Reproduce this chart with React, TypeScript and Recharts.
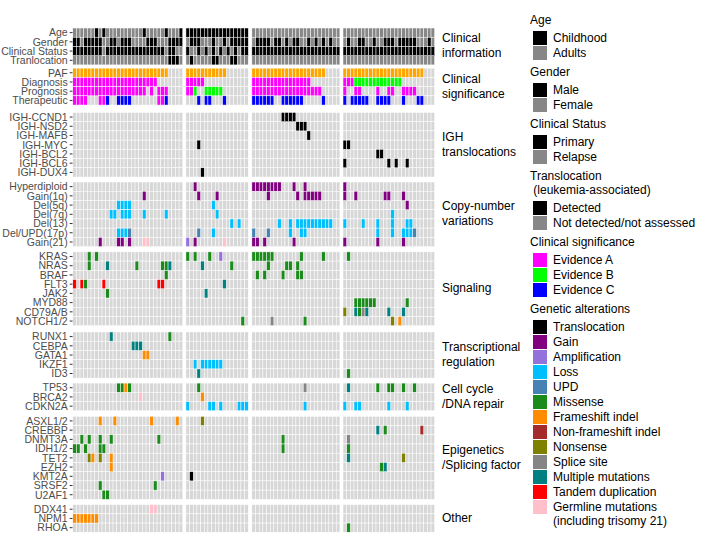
import React from "react";
import { ScatterChart, Scatter, XAxis, YAxis } from "recharts";

const cohorts = ["AML", "ALL", "MM", "DLBCL"];
const cohortSize = [30, 17, 24, 25];

// row: label, then AML / ALL / MM / DLBCL cells as "<code><col>[-<col>]"
const clinicalInfo = [
  ["Age", "K6 K8 K19 K25 K29", "K0-16", "", ""],
  ["Gender", "K0-1 K3-7 K10-11 K13-15 K20-22 K26-29", "K1-3 K7 K10 K12-16", "K1-4 K6-7 K9 K11-12 K15 K17 K19 K21", "K1 K4-5 K8 K11-13 K15-19 K23"],
  ["Clinical Status", "K0-7 K9-24 K26-27", "K0 K3 K5 K7 K9 K11 K13 K15-16", "K0-23", "K0-24"],
  ["Tranlocation", "K26-28", "K1 K7-8 K12-13", "", ""],
];
const clinicalSignificance = [
  ["PAF", "P0-25", "P0-10", "P0-19", "P0-21"],
  ["Diagnosis", "A0-22", "A0-4", "A0-15", "A0-2 B3-15"],
  ["Prognosis", "A0-19 A21 A23-25", "A0-1 B2 B5-9", "A0-18", "A0 A3-4 A9 A12-13 A16-19"],
  ["Therapeutic", "A0-3 A7-8 C9 C12-15 A23-24 C25", "C3 C5-6 C10", "C0-5 C8-13 C19", "C0 C2-6 C9-12 C16 C20-21"],
];
const ighTranslocations = [
  ["IGH-CCND1", "", "", "T8-11", ""],
  ["IGH-NSD2", "", "", "T12-14", ""],
  ["IGH-MAFB", "", "", "T15", ""],
  ["IGH-MYC", "", "T3", "", "T0-1"],
  ["IGH-BCL2", "", "", "", "T9-10"],
  ["IGH-BCL6", "", "", "", "T0 T12 T14 T17"],
  ["IGH-DUX4", "", "T4", "", ""],
];
const copyNumber = [
  ["Hyperdiploid", "", "G2", "G0-7 G11 G14", "G0"],
  ["Gain(1q)", "G19", "G3 G8", "G4 G12 G14-18", "G0 G3 G11-12 G16"],
  ["Del(5q)", "L12-15", "L7", "", "G17"],
  ["Del(7q)", "L10-11 L13-15 L19 L25", "L8", "", "L13"],
  ["Del(13)", "", "L12 L14", "L7 L10 L12-21", "L0 L5 L9 L13 L17-18"],
  ["Del/UPD(17p)", "L12-14 U15", "U3 L7", "U0 U4 L10 L13-14", "L9 L13 L16-18 U19"],
  ["Gain(21)", "G7 G12-13 G15 g19-20", "a0 G2 g10", "G0-1 G3 G11", "G0 G9 G16"],
];
const signaling = [
  ["KRAS", "M4 M6", "M0 M2 M6 a9", "M0-5 M13 M19", "M1"],
  ["NRAS", "M4 X9 M17 M24-25 X26", "X4 M12", "M4 M9-10 M12", ""],
  ["BRAF", "M25", "", "M1 M3 M8 M12-13", ""],
  ["FLT3", "D0 D2 M3 D8 D23-24", "X10", "", ""],
  ["JAK2", "M9", "X5", "", ""],
  ["MYD88", "", "", "", "M3-8 M17"],
  ["CD79A/B", "", "", "", "n0 X3 M4 s5 X6 X12 X16"],
  ["NOTCH1/2", "", "M15", "s5 M14", "n13 F15"],
];
const transcription = [
  ["RUNX1", "X10 M26", "", "", ""],
  ["CEBPA", "X16-18", "", "", ""],
  ["GATA1", "F19-20", "", "", ""],
  ["IKZF1", "", "L2 L4-9", "", ""],
  ["ID3", "", "X3", "", "M1"],
];
const cellCycle = [
  ["TP53", "M12-13 F14 M15", "M3", "s14", "X1 M9 M12-13 M16 M19"],
  ["BRCA2", "g18", "F4", "", ""],
  ["CDKN2A", "", "L0 L6-7 L9 L14-16", "L14", "L0 L3-4 L12 L17"],
];
const epigenetics = [
  ["ASXL1/2", "F7 F11 F21 F28", "n4", "", ""],
  ["CREBBP", "", "", "", "X9 M11 N21"],
  ["DNMT3A", "M2 M4 M7 M10 M23", "", "M8", "s1"],
  ["IDH1/2", "M0-1 M3 M7-8", "", "M8", "M1"],
  ["TET2", "n4 F5 n7 F10", "", "", "X1 n16"],
  ["EZH2", "F10", "", "", "M10 X11"],
  ["KMT2A", "a24", "T1", "", ""],
  ["SRSF2", "M7 M22", "", "", ""],
  ["U2AF1", "M8-9", "", "", ""],
];
const otherGenes = [
  ["DDX41", "g21-22", "", "", ""],
  ["NPM1", "F0-6", "", "", ""],
  ["RHOA", "", "", "", "M1"],
];

const groups = [clinicalInfo, clinicalSignificance, ighTranslocations, copyNumber, signaling, transcription, cellCycle, epigenetics, otherGenes];
const groupTitles = [
  ["Clinical", "information"], ["Clinical", "significance"], ["IGH", "translocations"],
  ["Copy-number", "variations"], ["Signaling"], ["Transcriptional", "regulation"],
  ["Cell cycle", "/DNA repair"], ["Epigenetics", "/Splicing factor"], ["Other"],
];

const COLORS: Record<string, string> = {
  K: "#000000", T: "#000000", P: "#FFA500", A: "#FF00FF", B: "#00FF00", C: "#0000FF",
  G: "#800080", a: "#9370DB", L: "#00BFFF", U: "#4682B4", M: "#1A8A1A", F: "#FF8C00",
  N: "#A52A2A", n: "#808000", s: "#858585", X: "#008080", D: "#FF0000", g: "#FFC0CB",
};
const DARK = "#878787";
const LIGHT = "#D7D7D7";

const legendAge = [["Childhood", "#000000"], ["Adults", DARK]];
const legendGender = [["Male", "#000000"], ["Female", DARK]];
const legendStatus = [["Primary", "#000000"], ["Relapse", DARK]];
const legendTransloc = [["Detected", "#000000"], ["Not detected/not assessed", DARK]];
const legendEvidence = [["Evidence A", "A"], ["Evidence B", "B"], ["Evidence C", "C"]];
const legendAlterations = [
  ["Translocation", "T"], ["Gain", "G"], ["Amplification", "a"], ["Loss", "L"], ["UPD", "U"],
  ["Missense", "M"], ["Frameshift indel", "F"], ["Non-frameshift indel", "N"], ["Nonsense", "n"],
  ["Splice site", "s"], ["Multiple mutations", "X"], ["Tandem duplication", "D"],
  ["Germline mutations\n(including trisomy 21)", "g"],
];

const W = 709;
const H = 536;
const PLOT_L = 72.7;
const PLOT_R = 434.7;
const PLOT_T = 28;
const PLOT_B = 532.3;
const GAP_X = [0.87, 0.98, 0.85];
const GAP_Y = [0.35, 0.8, 0.54, 0.57, 0.68, 0.54, 0.6, 0.57];
const TITLE_SHIFT = [1.8, 0.3, -1, 0.3];
const FONT = "'Liberation Sans', Arial, sans-serif";

let accX = 0;
const colStart = cohortSize.map((n, i) => {
  const s = accX;
  accX += n + (GAP_X[i] ?? 0);
  return s;
});
const totalX = accX;
let accY = 0;
const rowStart = groups.map((rows, k) => {
  const s = accY;
  accY += rows.length + (GAP_Y[k] ?? 0);
  return s;
});
const totalY = accY;
const CELL_W = (PLOT_R - PLOT_L) / totalX;
const CELL_H = (PLOT_B - PLOT_T) / totalY;

function parseCells(spec: string) {
  const out: [number, string][] = [];
  spec.split(" ").filter(Boolean).forEach((tok) => {
    const [a, b] = tok.slice(1).split("-").map(Number);
    for (let c = a; c <= (b ?? a); c++) out.push([c, tok[0]]);
  });
  return out;
}

const bgCells: any[] = [];
const marks: any[] = [];
const yTicks: number[] = [];
const yLabels: string[] = [];
groups.forEach((rows, k) => {
  rows.forEach((row, i) => {
    const y = rowStart[k] + i + 0.5;
    yTicks.push(y);
    yLabels.push(row[0]);
    cohortSize.forEach((n, g) => {
      for (let c = 0; c < n; c++) bgCells.push({ x: colStart[g] + c + 0.5, y, fill: k === 0 ? DARK : LIGHT });
      parseCells(row[g + 1]).forEach(([c, code]) => marks.push({ x: colStart[g] + c + 0.5, y, fill: COLORS[code] }));
    });
  });
});
const titleTicks = cohortSize.map((n, g) => colStart[g] + n / 2 + TITLE_SHIFT[g]);

const CellShape = (p: any) => (
  <rect
    x={p.cx - CELL_W / 2}
    y={p.cy - CELL_H / 2}
    width={CELL_W}
    height={CELL_H}
    fill={p.payload.fill}
    stroke="#ffffff"
    strokeWidth={0.5}
  />
);

const RowTick = (p: any) => {
  const i = yTicks.indexOf(p.payload.value);
  return (
    <text x={p.x} y={p.y} dy="0.36em" textAnchor="end" fontSize={10.5} fill="#4d4d4d" fontFamily={FONT}>
      {yLabels[i]}
    </text>
  );
};

const TitleTick = (p: any) => {
  const i = titleTicks.indexOf(p.payload.value);
  return (
    <text x={p.x} y={21.5} textAnchor="middle" fontSize={14} fill="#1a1a1a" fontFamily={FONT}>
      {cohorts[i]}
    </text>
  );
};

function Legend() {
  const sections = [
    { title: ["Age"], items: legendAge },
    { title: ["Gender"], items: legendGender },
    { title: ["Clinical Status"], items: legendStatus },
    { title: ["Translocation", " (leukemia-associated)"], items: legendTransloc },
    { title: ["Clinical significance"], items: legendEvidence.map(([l, c]) => [l, COLORS[c]]) },
    { title: ["Genetic alterations"], items: legendAlterations.map(([l, c]) => [l, COLORS[c]]) },
  ];
  const els: any[] = [];
  let y = 20;
  sections.forEach((sec, si) => {
    if (si > 0) y += 19;
    sec.title.forEach((t, ti) => {
      els.push(
        <div key={`t${si}-${ti}`} style={{ position: "absolute", left: 530, top: y - 7, lineHeight: "14px", fontSize: 12, whiteSpace: "pre" }}>
          {t}
        </div>
      );
      if (ti < sec.title.length - 1) y += 14;
    });
    y += 18;
    sec.items.forEach(([label, color], ii) => {
      if (ii > 0) y += 15;
      els.push(<div key={`k${si}-${ii}`} style={{ position: "absolute", left: 533, top: y - 7, width: 14, height: 14, background: color }} />);
      label.split("\n").forEach((line, li) => {
        els.push(
          <div key={`l${si}-${ii}-${li}`} style={{ position: "absolute", left: 553, top: y - 7 + li * 14, lineHeight: "14px", fontSize: 12, whiteSpace: "pre" }}>
            {line}
          </div>
        );
      });
    });
  });
  return <>{els}</>;
}

export default function App() {
  return (
    <div style={{ position: "absolute", left: 0, top: 0, width: W, height: H, background: "#fff", fontFamily: FONT, color: "#000" }}>
      <ScatterChart width={W} height={H} margin={{ top: 0, right: W - PLOT_R, bottom: H - PLOT_B, left: 0 }}>
        <XAxis dataKey="x" type="number" domain={[0, totalX]} hide allowDataOverflow />
        <XAxis
          xAxisId="top"
          orientation="top"
          type="number"
          domain={[0, totalX]}
          ticks={titleTicks}
          interval={0}
          axisLine={false}
          tickLine={false}
          height={PLOT_T}
          tick={<TitleTick />}
        />
        <YAxis
          dataKey="y"
          type="number"
          domain={[0, totalY]}
          reversed
          ticks={yTicks}
          interval={0}
          width={PLOT_L}
          axisLine={false}
          tickSize={3}
          tickMargin={2}
          tickLine={{ stroke: "#333333" }}
          tick={<RowTick />}
          allowDataOverflow
        />
        <Scatter data={bgCells} shape={CellShape} isAnimationActive={false} />
        <Scatter data={marks} shape={CellShape} isAnimationActive={false} />
      </ScatterChart>
      {groups.map((rows, k) => {
        const cy = PLOT_T + (rowStart[k] + rows.length / 2) * CELL_H;
        const lines = groupTitles[k];
        return (
          <div key={k} style={{ position: "absolute", left: 442, top: cy - (lines.length * 15) / 2, lineHeight: "15px", fontSize: 12, whiteSpace: "pre" }}>
            {lines.join("\n")}
          </div>
        );
      })}
      <Legend />
    </div>
  );
}
